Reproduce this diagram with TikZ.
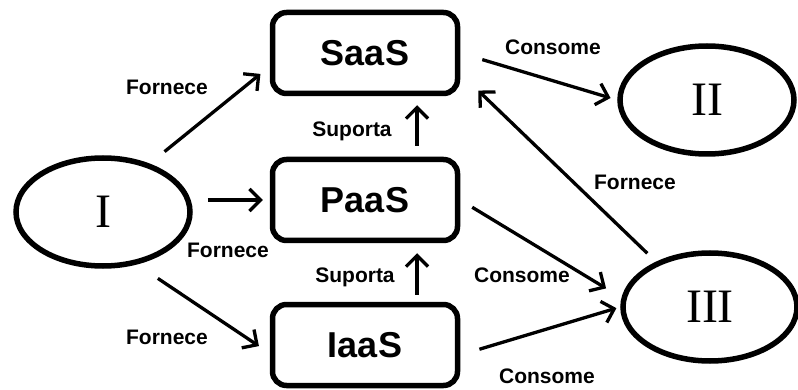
\documentclass[tikz,border=0pt]{standalone}
\usepackage{fontspec}
\setmainfont{Liberation Sans}
\newfontfamily\romanfont{Liberation Serif}
\usetikzlibrary{shapes.geometric, arrows.meta}
\tikzset{
    service/.style={
        rectangle, rounded corners=14pt, minimum width=185pt, minimum height=81pt,
        align=center, draw=black, line width=5.5pt, font=\fontsize{36}{40}\selectfont\bfseries
    },
    actor/.style={
        ellipse, minimum width=174pt, minimum height=108pt,
        align=center, draw=black, line width=5.5pt, font=\romanfont\fontsize{48}{52}\selectfont
    },
    arrow/.style={
        line width=3.3pt, -{Straight Barb[length=11pt, width=22pt]}, draw=black
    },
    rel_label/.style={
        anchor=base, inner sep=0pt, font=\fontsize{21}{24}\selectfont\bfseries
    }
}

\begin{document}
\begin{tikzpicture}[x=1pt, y=-1pt]
    \useasboundingbox (0, 0) rectangle (798, 390);
    \node[service] (saas) at (365, 53) {SaaS};
    \node[service] (paas) at (365, 200) {PaaS};
    \node[service] (iaas) at (365, 345) {IaaS};
    \node[actor] (I) at (103, 212) {I};
    \node[actor] (II) at (707, 100) {II};
    \node[actor] (III) at (710, 307) {III};

    \node[rel_label] (fornece_saas) at (167, 95) {Fornece};
    \node[rel_label] (fornece_paas) at (228, 258) {Fornece};
    \node[rel_label] (fornece_iaas) at (167, 344) {Fornece};
    \node[rel_label] (suporta_saas) at (352, 137) {Suporta};
    \node[rel_label] (suporta_paas) at (355, 282) {Suporta};
    \node[rel_label] (consome_saas) at (553, 55) {Consome};
    \node[rel_label] (consome_paas) at (522, 283) {Consome};
    \node[rel_label] (consome_iaas) at (547, 383) {Consome};
    \node[rel_label] (fornece_iii) at (635, 190) {Fornece};

    \draw[arrow, shorten <=19pt, shorten >=12pt] (I.46) -- (saas.188);
    \draw[arrow, shorten <=15pt, shorten >=7pt] (I.east |- paas.west) -- (paas.west);
    \draw[arrow, shorten <=25pt, shorten >=13pt] (I.303) -- (iaas.185);
    \draw[arrow, shorten <=11pt, shorten >=9pt] ([xshift=52pt]paas.north) -- ([xshift=52pt]saas.south);
    \draw[arrow, shorten <=7pt, shorten >=10pt] ([xshift=52pt]iaas.north) -- ([xshift=52pt]paas.south);
    \draw[arrow, shorten <=23pt, shorten >=7pt] (saas.east) -- (II.west);
    \draw[arrow, shorten <=12pt, shorten >=25pt] (III.140) -- (saas.348);
    \draw[arrow, shorten <=14pt, shorten >=18pt] (paas.east) -- (III.174);
    \draw[arrow, shorten <=20pt, shorten >=4pt] (iaas.354) -- (III.west);
\end{tikzpicture}
\end{document}
